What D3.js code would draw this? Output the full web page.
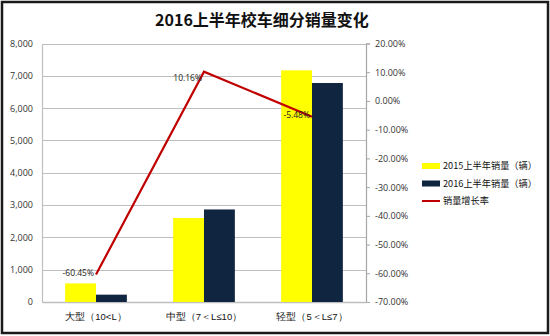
<!DOCTYPE html>
<html>
<head>
<meta charset="utf-8">
<script src="https://cdn.jsdelivr.net/npm/d3@7"></script>
<style>
  html, body { margin: 0; padding: 0; background: #fff; }
  svg { display: block; font-family: "Noto Sans CJK SC", "Open Sans", sans-serif; }
</style>
</head>
<body>
<svg id="chart" width="550" height="336"></svg>
<script>
// Data
const categories = ["大型（10<L）", "中型（7＜L≤10）", "轻型（5＜L≤7）"];
const sales2015 = [575, 2600, 7170];
const sales2016 = [227, 2864, 6777];
const growth = [-60.45, 10.16, -5.48];
const seriesNames = ["2015上半年销量（辆）", "2016上半年销量（辆）", "销量增长率"];
const leftTicks = [0, 1000, 2000, 3000, 4000, 5000, 6000, 7000, 8000];
const rightTicks = [-70, -60, -50, -40, -30, -20, -10, 0, 10, 20];

const colors = { y2015: "#ffff00", y2016: "#10253f", line: "#c00000", grid: "#bfbfbf", text: "#333" };

// plain hyphen for negative numbers
const loc = d3.formatLocale({ decimal: ".", thousands: ",", grouping: [3], currency: ["", ""], minus: "-" });
const pct = d => loc.format(".2f")(d) + "%";

const svg = d3.select("#chart");
const plot = { left: 42, right: 366, top: 43.5, bottom: 302 };

// frame
svg.append("rect").attr("x", 2).attr("y", 2).attr("width", 546).attr("height", 331)
  .attr("fill", "#fff").attr("stroke", "#1a1a1a").attr("stroke-width", 2.5);

// title
svg.append("text").attr("x", 262).attr("y", 26).attr("text-anchor", "middle")
  .attr("font-size", 16).attr("font-weight", "bold").attr("fill", "#111")
  .text("2016上半年校车细分销量变化");

const x = d3.scaleBand().domain(categories).range([plot.left, plot.right]);
const yL = d3.scaleLinear().domain([0, 8000]).range([plot.bottom, plot.top]);
const yR = d3.scaleLinear().domain([-70, 20]).range([plot.bottom, plot.top]);

// gridlines
svg.append("g").selectAll("line").data(leftTicks.slice(1)).join("line")
  .attr("x1", plot.left).attr("x2", plot.right)
  .attr("y1", d => Math.round(yL(d)) + 0.5).attr("y2", d => Math.round(yL(d)) + 0.5)
  .attr("stroke", colors.grid).attr("stroke-width", 1.2);

// left axis
const axL = svg.append("g").attr("transform", `translate(${plot.left},0)`)
  .call(d3.axisLeft(yL).tickValues(leftTicks).tickFormat(loc.format(",")).tickSize(0).tickPadding(9));
axL.select(".domain").attr("stroke", colors.grid).attr("stroke-width", 1.2);
axL.selectAll("text").attr("font-family", "Open Sans, sans-serif").attr("font-size", 9).attr("fill", colors.text);

// right axis
const axR = svg.append("g").attr("transform", `translate(${plot.right},0)`)
  .call(d3.axisRight(yR).tickValues(rightTicks).tickFormat(pct).tickSize(4).tickPadding(5));
axR.select(".domain").attr("stroke", "#a6a6a6").attr("stroke-width", 1.2);
axR.selectAll(".tick line").attr("stroke", "#a6a6a6");
axR.selectAll("text").attr("font-family", "Open Sans, sans-serif").attr("font-size", 9).attr("fill", colors.text);

// bottom axis
const axB = svg.append("g").attr("transform", `translate(0,${plot.bottom})`)
  .call(d3.axisBottom(x).tickSize(0).tickPadding(11));
axB.select(".domain").attr("stroke", colors.grid).attr("stroke-width", 1.5);
axB.selectAll("text").attr("font-size", 9.5).attr("fill", "#111");

// bars
const barW = x.bandwidth() / 3.5;
const bars = svg.append("g");
bars.selectAll("rect.a").data(categories).join("rect").attr("class", "a")
  .attr("x", d => x(d) + x.bandwidth() / 2 - barW)
  .attr("y", (d, i) => yL(sales2015[i]))
  .attr("width", barW)
  .attr("height", (d, i) => yL(0) - yL(sales2015[i]))
  .attr("fill", colors.y2015);
bars.selectAll("rect.b").data(categories).join("rect").attr("class", "b")
  .attr("x", d => x(d) + x.bandwidth() / 2)
  .attr("y", (d, i) => yL(sales2016[i]))
  .attr("width", barW)
  .attr("height", (d, i) => yL(0) - yL(sales2016[i]))
  .attr("fill", colors.y2016);

// growth line
const pts = categories.map((c, i) => [x(c) + x.bandwidth() / 2, yR(growth[i])]);
svg.append("path").attr("d", d3.line()(pts))
  .attr("fill", "none").attr("stroke", colors.line).attr("stroke-width", 2.2);

// growth labels
svg.append("g").selectAll("text").data(pts).join("text")
  .attr("x", d => d[0] - 2)
  .attr("y", (d, i) => d[1] + (i === 1 ? 6 : -2))
  .attr("dy", "0.35em")
  .attr("text-anchor", "end")
  .attr("font-family", "Open Sans, sans-serif")
  .attr("font-size", 8.5).attr("fill", "#222")
  .text((d, i) => pct(growth[i]));

// legend
const legend = svg.append("g").attr("transform", "translate(422,166)");
const rows = legend.selectAll("g").data(seriesNames).join("g")
  .attr("transform", (d, i) => `translate(0,${i * 17.5})`);
rows.each(function(d, i) {
  const g = d3.select(this);
  if (i < 2) {
    g.append("rect").attr("x", 0).attr("y", -3).attr("width", 18).attr("height", 6)
      .attr("fill", i === 0 ? colors.y2015 : colors.y2016);
  } else {
    g.append("line").attr("x1", 0).attr("x2", 18).attr("y1", 0).attr("y2", 0)
      .attr("stroke", colors.line).attr("stroke-width", 2);
  }
  g.append("text").attr("x", 21).attr("y", 0).attr("dy", "0.35em")
    .attr("font-size", 9.2).attr("fill", "#111").text(d);
});
</script>
</body>
</html>
